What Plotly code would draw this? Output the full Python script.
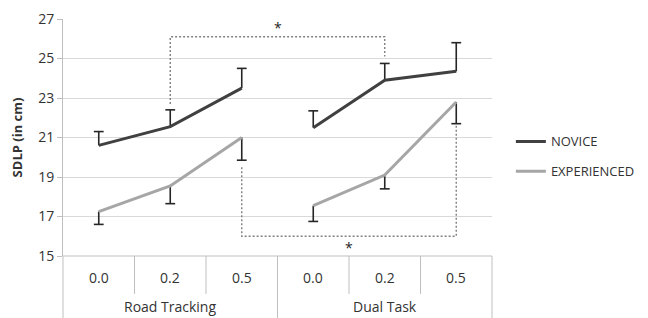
import plotly.graph_objects as go

# ---- data ----
conditions = ["0.0", "0.2", "0.5", "0.0", "0.2", "0.5"]
tasks = ["Road Tracking", "Dual Task"]
novice = [20.6, 21.55, 23.5, 21.5, 23.9, 24.35]
novice_err = [0.7, 0.85, 1.0, 0.85, 0.85, 1.45]
experienced = [17.25, 18.55, 21.0, 17.55, 19.1, 22.8]
experienced_err = [0.65, 0.9, 1.15, 0.8, 0.7, 1.1]
series_names = ["NOVICE", "EXPERIENCED"]
y_ticks = [15, 17, 19, 21, 23, 25, 27]
# significance brackets: (from category, to category, start y, bracket y, end y)
bracket_top = [1, 4, 22.7, 26.1, 25.1]
bracket_bottom = [2, 5, 19.5, 16.0, 21.6]

FONT = "Open Sans"
TXT = "#333333"
GRID = "#d9d9d9"
AX = "#bfbfbf"
ERRC = "#262626"

n = len(conditions)
idx = list(range(n))
per = n // len(tasks)


def gapped(vals):
    xs, ys = [], []
    for g in range(len(tasks)):
        if g:
            xs.append(None)
            ys.append(None)
        for i in range(g * per, (g + 1) * per):
            xs.append(i)
            ys.append(vals[i])
    return xs, ys


fig = go.Figure()

specs = [
    (series_names[0], novice, novice_err, "#404040", True),
    (series_names[1], experienced, experienced_err, "#a6a6a6", False),
]
for k, (name, vals, err, col, up) in enumerate(specs):
    # error bars (no caps)
    fig.add_trace(go.Scatter(
        x=idx, y=vals, mode="markers", marker=dict(size=0.1, opacity=0),
        showlegend=False, hoverinfo="skip",
        error_y=dict(type="data", symmetric=False,
                     array=err if up else [0] * n,
                     arrayminus=[0] * n if up else err,
                     color=ERRC, thickness=1.6, width=0),
    ))
    # caps
    tips = [v + e if up else v - e for v, e in zip(vals, err)]
    fig.add_trace(go.Scatter(
        x=idx, y=tips, mode="markers", showlegend=False, hoverinfo="skip",
        marker=dict(symbol="line-ew", size=7, line=dict(width=1.6, color=ERRC)),
    ))
    xs, ys = gapped(vals)
    fig.add_trace(go.Scatter(
        x=xs, y=ys, mode="lines", name=name, legendgroup=name,
        line=dict(color=col, width=3), connectgaps=False,
    ))

# brackets
for (a, b, y0, y1, y2) in [bracket_top, bracket_bottom]:
    fig.add_shape(type="path", xref="x", yref="y",
                  path=f"M {a},{y0} L {a},{y1} L {b},{y1} L {b},{y2}",
                  line=dict(color="#808080", width=1.4, dash="2px,2px"))
fig.add_annotation(x=(bracket_top[0] + bracket_top[1]) / 2, y=26.55, text="*",
                   showarrow=False, font=dict(size=14, color=ERRC, family=FONT))
fig.add_annotation(x=(bracket_bottom[0] + bracket_bottom[1]) / 2, y=15.42, text="*",
                   showarrow=False, font=dict(size=14, color=ERRC, family=FONT))

# category axis (multi-level) drawn manually
def px(v):
    return (v + 0.5) / n

for i, c in enumerate(conditions):
    fig.add_annotation(x=px(i), xref="paper", y=-0.092, yref="paper", text=c,
                       xanchor="center", yanchor="middle",
                       showarrow=False, font=dict(size=14, color=TXT, family=FONT))
for g, t in enumerate(tasks):
    fig.add_annotation(x=px(g * per + (per - 1) / 2), xref="paper", y=-0.214, yref="paper",
                       xanchor="center", yanchor="middle",
                       text=t, showarrow=False, font=dict(size=14, color=TXT, family=FONT))
for b in range(n + 1):
    xb = px(b - 0.5)
    full = (b % per == 0)
    fig.add_shape(type="line", xref="paper", yref="paper",
                  x0=xb, x1=xb, y0=0, y1=-0.27 if full else -0.16,
                  line=dict(color=AX, width=1))
fig.add_shape(type="line", xref="paper", yref="paper", x0=0, x1=1, y0=0, y1=0,
              line=dict(color=AX, width=1))

# the page body adds an 8px offset; margins compensate for it
fig.update_layout(
    width=648, height=318,
    margin=dict(l=55, r=164, t=11, b=70, autoexpand=False),
    paper_bgcolor="white", plot_bgcolor="white",
    font=dict(family=FONT, color=TXT, size=13),
    showlegend=True,
    legend=dict(x=1.044, xanchor="left", y=0.42, yanchor="middle",
                font=dict(size=13, color=TXT, family=FONT),
                tracegroupgap=10, traceorder="grouped",
                bgcolor="rgba(0,0,0,0)"),
    xaxis=dict(range=[-0.5, n - 0.5], showticklabels=False, showgrid=False,
               zeroline=False, showline=False, fixedrange=True, automargin=False),
    yaxis=dict(range=[15, 27], tickvals=y_ticks, showgrid=True, gridcolor=GRID,
               gridwidth=1, zeroline=False, showline=True, linecolor=AX,
               ticks="outside", ticklen=5, tickcolor=AX, automargin=False,
               tickfont=dict(size=14, color=TXT, family=FONT),
               title=dict(text="<b>SDLP (in cm)</b>", standoff=14,
                          font=dict(size=13, color=TXT, family=FONT))),
)

fig.write_html("out.html")
